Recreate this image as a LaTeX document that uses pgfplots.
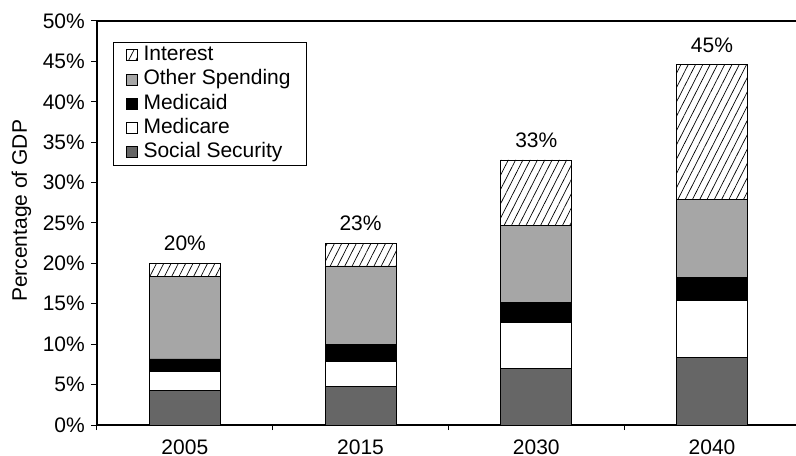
\documentclass[border=0pt]{standalone}
\usepackage{pgfplots}
\pgfplotsset{compat=1.18}
\usepackage{fontspec}
\setmainfont{Liberation Sans}
\usetikzlibrary{patterns.meta}
\definecolor{ssgray}{HTML}{666666}
\definecolor{othgray}{HTML}{A6A6A6}
\pgfplotsset{
  frame/.style={
    scale only axis,
    width=699bp, height=404bp,
    xmin=-0.5, xmax=3.478,
    ymin=0, ymax=50,
  }
}
\begin{document}
\fontsize{21bp}{25bp}\selectfont
\begin{tikzpicture}[font=\fontsize{21bp}{25bp}\selectfont]
\begin{axis}[
  frame,
  ybar stacked,
  bar width=71bp,
  every axis plot post/.append style={
    /pgfplots/legend image code/.code={\draw[##1,line width=0.6bp] (0bp,-5.5bp) rectangle (11bp,5.5bp);}
  },
  axis x line*=bottom,
  axis y line*=left,
  axis line style={line width=1.1bp, -},
  tick align=outside,
  xtick={0,1,2,3},
  xticklabels={2005,2015,2030,2040},
  major x tick style={draw=none},
  minor xtick={-0.5,0.5,1.5,2.5},
  minor tick length=5bp,
  minor x tick style={line width=1bp, black},
  ytick={0,5,...,50},
  yticklabel={\pgfmathprintnumber{\tick}\%},
  major tick length=6bp,
  major y tick style={line width=1bp, black},
  /pgf/number format/assume math mode=true,
  xticklabel style={yshift=-1.5bp},
  yticklabel style={xshift=1bp},
  ylabel={Percentage of GDP},
  ylabel style={at={(axis description cs:-0.108,0.53)}, anchor=center, rotate=0},
  legend style={
    at={(axis description cs:0.0229,0.948)}, anchor=north west,
    draw=black, line width=0.8bp,
    inner xsep=13bp, inner ysep=0.5bp,
    row sep=0pt,
    nodes={inner ysep=2.5bp, inner xsep=3bp, text height=15bp, text depth=4.3bp},
    cells={anchor=west},
    /tikz/every odd column/.style={column sep=2.5bp},
    /tikz/every even column/.style={column sep=3bp},
  },
  reverse legend,
]
\addplot[fill=ssgray, draw=black, line width=0.8bp] coordinates {(0,4.33) (1,4.74) (2,6.97) (3,8.33)};
\addlegendentry{Social Security}
\addplot[fill=white, draw=black, line width=0.8bp] coordinates {(0,2.31) (1,3.14) (2,5.69) (3,7.06)};
\addlegendentry{Medicare}
\addplot[fill=black, draw=black, line width=0.8bp] coordinates {(0,1.53) (1,2.10) (2,2.48) (3,2.89)};
\addlegendentry{Medicaid}
\addplot[fill=othgray, draw=black, line width=0.8bp] coordinates {(0,10.27) (1,9.70) (2,9.57) (3,9.69)};
\addlegendentry{Other Spending}
\addplot[draw=black, line width=0.8bp,
  pattern={Lines[angle=63,distance=6.5bp,line width=0.7bp]}, pattern color=black,
] coordinates {(0,1.56) (1,2.81) (2,8.09) (3,16.63)};
\addlegendentry{Interest}
\draw[line width=1.1bp] (rel axis cs:0,1) -- (rel axis cs:1,1);
\end{axis}
\begin{axis}[
  frame,
  hide axis,
  point meta=explicit symbolic,
]
\addplot[only marks, mark=none,
  nodes near coords={\pgfplotspointmeta\%},
  nodes near coords style={anchor=south, yshift=5bp, black},
] coordinates {(0,20.0) [20] (1,22.49) [23] (2,32.8) [33] (3,44.6) [45]};
\end{axis}
\pgfresetboundingbox
\path (-97bp,-31bp) rectangle (699bp,425bp);
\end{tikzpicture}
\end{document}
